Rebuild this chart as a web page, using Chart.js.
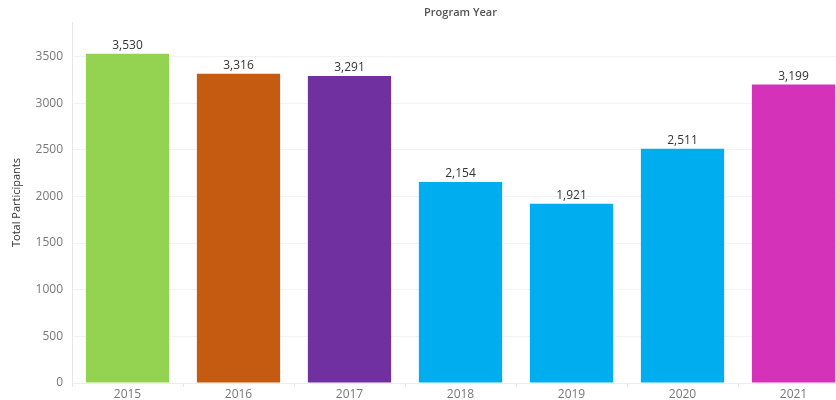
<!DOCTYPE html>
<html lang="en">
<head>
  <meta charset="UTF-8" />
  <title>Total Participants by Program Year</title>
  <script src="https://cdn.jsdelivr.net/npm/chart.js"></script>
  <style>
    html, body { margin: 0; padding: 0; background: #fff; overflow: hidden; }
    #wrap { width: 836px; height: 400px; overflow: hidden; }
  </style>
</head>
<body>
  <div id="wrap">
    <canvas id="barChart" width="850" height="400"></canvas>
  </div>

  <script>
    const years = ['2015', '2016', '2017', '2018', '2019', '2020', '2021'];
    const participants = [3530, 3316, 3291, 2154, 1921, 2511, 3199];
    const barColors = ['#94d351', '#c55a11', '#7030a0', '#00aeef', '#00aeef', '#00aeef', '#d433b9'];
    const yTicks = [0, 500, 1000, 1500, 2000, 2500, 3000, 3500];

    const fontFamily = '"Open Sans", Lato, sans-serif';

    // value labels above each bar
    const barLabels = {
      id: 'barLabels',
      afterDatasetsDraw(chart) {
        const ctx = chart.ctx;
        const meta = chart.getDatasetMeta(0);
        ctx.save();
        ctx.font = '12px ' + fontFamily;
        ctx.fillStyle = '#333';
        ctx.textAlign = 'center';
        ctx.textBaseline = 'bottom';
        meta.data.forEach((bar, i) => {
          ctx.fillText(participants[i].toLocaleString('en-US'), bar.x, bar.y - 2);
        });
        ctx.restore();
      }
    };

    new Chart(document.getElementById('barChart'), {
      type: 'bar',
      data: {
        labels: years,
        datasets: [{
          data: participants,
          backgroundColor: barColors,
          borderWidth: 0,
          categoryPercentage: 1,
          barPercentage: 0.75
        }]
      },
      options: {
        responsive: false,
        animation: false,
        layout: { padding: { left: 0, right: 1, top: 0, bottom: 0 } },
        plugins: {
          legend: { display: false },
          tooltip: { enabled: false }
        },
        scales: {
          x: {
            position: 'bottom',
            offset: true,
            grid: {
              offset: true,
              drawOnChartArea: false,
              drawTicks: true,
              tickLength: 4,
              color: '#e4e4e4'
            },
            border: { display: true, color: '#eeeeee' },
            ticks: {
              color: '#777',
              font: { size: 12, family: fontFamily },
              padding: 0,
              maxRotation: 0
            },
            afterFit(scale) { scale.height = 17; }
          },
          xTop: {
            type: 'category',
            position: 'top',
            labels: years,
            grid: { display: false },
            border: { display: false },
            ticks: { display: false },
            title: {
              display: true,
              text: 'Program Year',
              color: '#555',
              font: { size: 11, weight: '600', family: fontFamily },
              padding: { top: 6, bottom: 0 }
            },
            afterFit(scale) { scale.height = 22; }
          },
          y: {
            min: 0,
            max: 3870,
            afterBuildTicks(scale) {
              scale.ticks = yTicks.map(v => ({ value: v }));
            },
            grid: { color: '#f2f2f2', drawTicks: false },
            border: { display: true, color: '#e6e6e6' },
            ticks: {
              color: '#777',
              font: { size: 12, family: fontFamily },
              padding: 9,
              callback: v => String(v)
            },
            title: {
              display: true,
              text: 'Total Participants',
              color: '#333',
              font: { size: 11, family: fontFamily },
              padding: { top: 10, bottom: 0 }
            },
            afterFit(scale) { scale.width = 72; }
          }
        }
      },
      plugins: [barLabels]
    });
  </script>
</body>
</html>
